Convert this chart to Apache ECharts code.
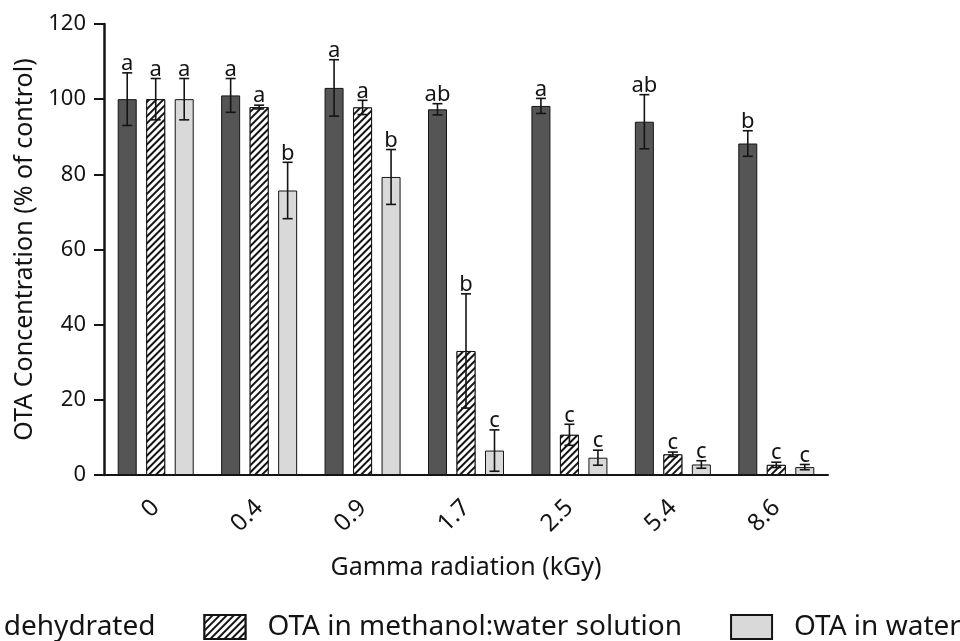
<!DOCTYPE html>
<html><head><meta charset="utf-8">
<script src="https://cdn.jsdelivr.net/npm/echarts@6/dist/echarts.min.js"></script>
<style>html,body{margin:0;padding:0;background:#fff}#c{width:960px;height:641px}</style>
</head><body><div id="c"></div>
<script>
// ---- data ----
const categories = ['0', '0.4', '0.9', '1.7', '2.5', '5.4', '8.6'];
const seriesNames = ['OTA dehydrated', 'OTA in methanol:water solution', 'OTA in water'];
const dehydrated = [100, 101, 103, 97.3, 98.2, 94, 88.2];
const dehydratedErr = [7, 4.5, 7.5, 1.5, 2, 7.2, 3.4];
const dehydratedLetters = ['a', 'a', 'a', 'ab', 'a', 'ab', 'b'];
const methanol = [100, 97.9, 97.8, 33, 10.7, 5.5, 2.7];
const methanolErr = [5.5, 0.5, 1.9, 15.2, 2.8, 0.6, 0.7];
const methanolLetters = ['a', 'a', 'a', 'b', 'c', 'c', 'c'];
const water = [100, 75.7, 79.3, 6.5, 4.6, 2.8, 2.1];
const waterErr = [5.5, 7.5, 7.3, 5.5, 2, 1, 0.7];
const waterLetters = ['a', 'b', 'b', 'c', 'c', 'c', 'c'];
const yTicks = {min: 0, max: 120, interval: 20};

// ---- chart ----
const FONT = '"Noto Sans", "DejaVu Sans", sans-serif';
const INK = '#141414';
const BAR_W = 19;
const STEP = 28.5;

function errSeries(idx, values, errs, letters) {
  return {
    type: 'custom', silent: true, z: 10,
    data: values.map((v, i) => [i, v - errs[i], v + errs[i]]),
    renderItem(params, api) {
      const i = api.value(0);
      const lo = api.coord([i, api.value(1)]);
      const hi = api.coord([i, api.value(2)]);
      const x = lo[0] + (idx - 1) * STEP;
      const cap = 5;
      const st = {stroke: INK, lineWidth: 1.6};
      return {type: 'group', children: [
        {type: 'line', shape: {x1: x, y1: lo[1], x2: x, y2: hi[1]}, style: st},
        {type: 'line', shape: {x1: x - cap, y1: hi[1], x2: x + cap, y2: hi[1]}, style: st},
        {type: 'line', shape: {x1: x - cap, y1: lo[1], x2: x + cap, y2: lo[1]}, style: st},
        {type: 'text', x: x, y: hi[1] + 2, style: {
          text: letters[params.dataIndex], fontSize: 22, fontFamily: FONT, fill: INK,
          align: 'center', verticalAlign: 'bottom', textAlign: 'center', textVerticalAlign: 'bottom'}}
      ]};
    }
  };
}

const chart = echarts.init(document.getElementById('c'), null, {renderer: 'canvas'});
chart.setOption({
  animation: false,
  backgroundColor: '#ffffff',
  textStyle: {fontFamily: FONT, color: INK},
  grid: {left: 104, right: 132, top: 24, bottom: 166, containLabel: false},
  legend: {
    left: -125, top: 608, width: 1400, itemWidth: 41, itemHeight: 24, itemGap: 48,
    icon: 'rect',
    textStyle: {fontSize: 28, fontFamily: FONT, color: INK, padding: [0, 0, 0, 17]},
    data: seriesNames
  },
  xAxis: {
    type: 'category', data: categories,
    axisLine: {lineStyle: {color: INK, width: 2}},
    axisTick: {alignWithLabel: true, length: 12, lineStyle: {color: INK, width: 2}},
    axisLabel: {rotate: 45, fontSize: 24, color: INK, fontFamily: FONT, margin: 29},
    name: 'Gamma radiation (kGy)', nameLocation: 'middle', nameGap: 80,
    nameTextStyle: {fontSize: 25, color: INK, fontFamily: FONT}
  },
  yAxis: {
    type: 'value', min: yTicks.min, max: yTicks.max, interval: yTicks.interval,
    splitLine: {show: false},
    axisLine: {show: true, lineStyle: {color: INK, width: 2.5}},
    axisTick: {show: true, length: 10, lineStyle: {color: INK, width: 2}},
    axisLabel: {fontSize: 22, color: INK, fontFamily: FONT, margin: 18},
    name: 'OTA Concentration (% of control)', nameLocation: 'middle', nameGap: 66,
    nameTextStyle: {fontSize: 25, color: INK, fontFamily: FONT}
  },
  series: [
    {type: 'bar', name: seriesNames[0], data: dehydrated, barWidth: BAR_W, barGap: '50%',
     itemStyle: {color: '#555555', borderColor: INK, borderWidth: 1}},
    {type: 'bar', name: seriesNames[1], data: methanol, barWidth: BAR_W, barGap: '50%',
     itemStyle: {color: '#ffffff', borderColor: INK, borderWidth: 1,
       decal: {symbol: 'rect', symbolSize: 1, dashArrayX: [1, 0], dashArrayY: [1.5, 2.5],
               rotation: -Math.PI / 4, color: INK, backgroundColor: '#ffffff'}}},
    {type: 'bar', name: seriesNames[2], data: water, barWidth: BAR_W, barGap: '50%',
     itemStyle: {color: '#d9d9d9', borderColor: INK, borderWidth: 1}},
    errSeries(0, dehydrated, dehydratedErr, dehydratedLetters),
    errSeries(1, methanol, methanolErr, methanolLetters),
    errSeries(2, water, waterErr, waterLetters)
  ]
});
</script></body></html>
